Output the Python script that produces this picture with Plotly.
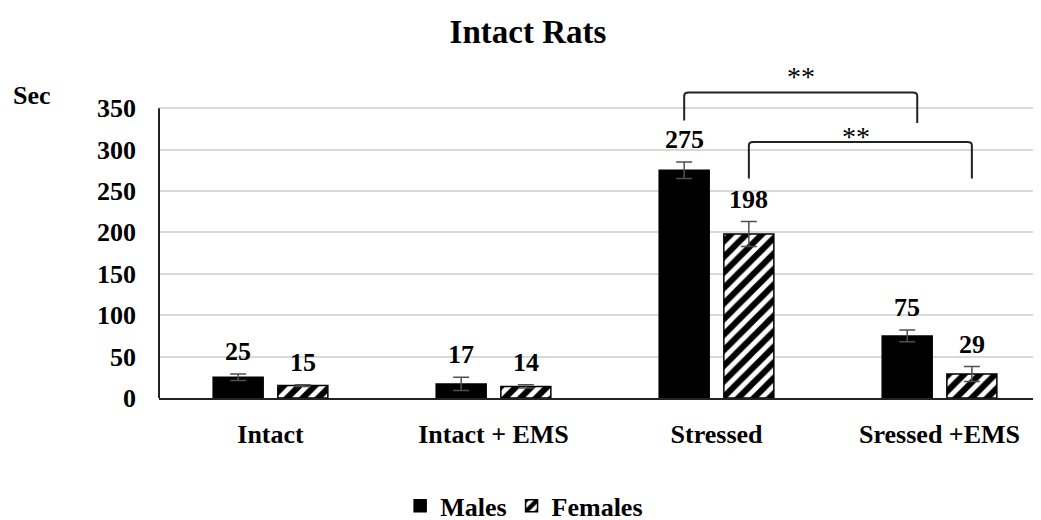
import plotly.graph_objects as go

categories = ["Intact", "Intact + EMS", "Stressed", "Sressed +EMS"]
males = [25, 17, 275, 75]
females = [15, 14, 198, 29]
males_err = [4, 8, 10, 7]
females_err = [1, 2, 15, 9]
y_ticks = [0, 50, 100, 150, 200, 250, 300, 350]

FONT = "Liberation Serif"
BAR_OFF = 0.145

fig = go.Figure()
fig.add_trace(go.Bar(
    x=categories, y=males, name="<b>Males</b>",
    marker=dict(color="black", line=dict(color="black", width=1.5)),
    error_y=dict(type="data", array=males_err, color="#505050", thickness=1.5, width=8),
))
fig.add_trace(go.Bar(
    x=categories, y=females, name="<b>Females</b>",
    marker=dict(color="white", line=dict(color="black", width=1.5),
                pattern=dict(shape="/", fgcolor="black", fgopacity=1, bgcolor="white",
                             size=11, solidity=0.55)),
    error_y=dict(type="data", array=females_err, color="#505050", thickness=1.5, width=8),
))

annotations = []
for i in range(len(categories)):
    for off, v, e in ((-BAR_OFF, males[i], males_err[i]), (BAR_OFF, females[i], females_err[i])):
        annotations.append(dict(x=i + off, y=v + e, xref="x", yref="y", text=f"<b>{v}</b>",
                                showarrow=False, yanchor="bottom", yshift=6,
                                font=dict(family=FONT, size=26, color="black")))

# significance brackets
b1 = dict(x0=2 - BAR_OFF, x1=2.9, ybot0=335, ybot1=332, top=369)
b2 = dict(x0=2 + BAR_OFF, x1=3 + BAR_OFF, ybot0=265, ybot1=265, top=309)
shapes = []
for b in (b1, b2):
    r = 0.02
    ry = 4
    path = (f"M {b['x0']} {b['ybot0']} L {b['x0']} {b['top'] - ry} "
            f"Q {b['x0']} {b['top']} {b['x0'] + r} {b['top']} "
            f"L {b['x1'] - r} {b['top']} Q {b['x1']} {b['top']} {b['x1']} {b['top'] - ry} "
            f"L {b['x1']} {b['ybot1']}")
    shapes.append(dict(type="path", path=path, xref="x", yref="y",
                       line=dict(color="#222222", width=2)))
annotations.append(dict(x=(b1["x0"] + b1["x1"]) / 2, y=b1["top"], xref="x", yref="y",
                        text="**", showarrow=False, yanchor="bottom", yshift=-2,
                        font=dict(family=FONT, size=28, color="black")))
annotations.append(dict(x=(b2["x0"] + b2["x1"]) / 2 - 0.02, y=b2["top"], xref="x", yref="y",
                        text="**", showarrow=False, yanchor="middle", yshift=6,
                        font=dict(family=FONT, size=28, color="black")))
# y axis line from 0 to 350
shapes.append(dict(type="line", xref="paper", yref="y", x0=0, x1=0, y0=0, y1=max(y_ticks),
                   line=dict(color="#222222", width=2)))
annotations.append(dict(text="<b>Sec</b>", xref="paper", yref="paper", x=-0.144, y=0.938,
                        xanchor="center", yanchor="middle", showarrow=False,
                        font=dict(family=FONT, size=26, color="black")))

fig.update_layout(
    width=1041, height=520,
    margin=dict(l=151, r=8, t=67, b=130, autoexpand=False),
    paper_bgcolor="white", plot_bgcolor="white",
    title=dict(text="<b>Intact Rats</b>", x=0.4995, xanchor="center",
               y=0.954, yref="container", yanchor="middle",
               font=dict(family=FONT, size=33, color="black")),
    barmode="group", bargap=0.42, bargroupgap=0.227,
    font=dict(family=FONT, color="black"),
    xaxis=dict(type="category", range=[-0.5, 3.455], showline=True, linecolor="#222222",
               linewidth=2, showgrid=False, ticks="", ticklabelstandoff=12, automargin=False,
               tickfont=dict(family=FONT, size=26, color="black"),
               tickvals=categories, ticktext=[f"<b>{c}</b>" for c in categories]),
    yaxis=dict(range=[0, 390], tickvals=y_ticks, ticktext=[f"<b>{t}</b>" for t in y_ticks],
               showline=False, showgrid=True, gridcolor="#d9d9d9", gridwidth=1.5,
               zeroline=False, ticks="", ticklabelstandoff=22, automargin=False,
               tickfont=dict(family=FONT, size=26, color="black")),
    legend=dict(orientation="h", x=0.414, xanchor="center", y=-0.334, yanchor="middle",
                font=dict(family=FONT, size=26, color="black"), itemwidth=30,
                traceorder="normal"),
    shapes=shapes, annotations=annotations,
)
fig.write_html("out.html")
